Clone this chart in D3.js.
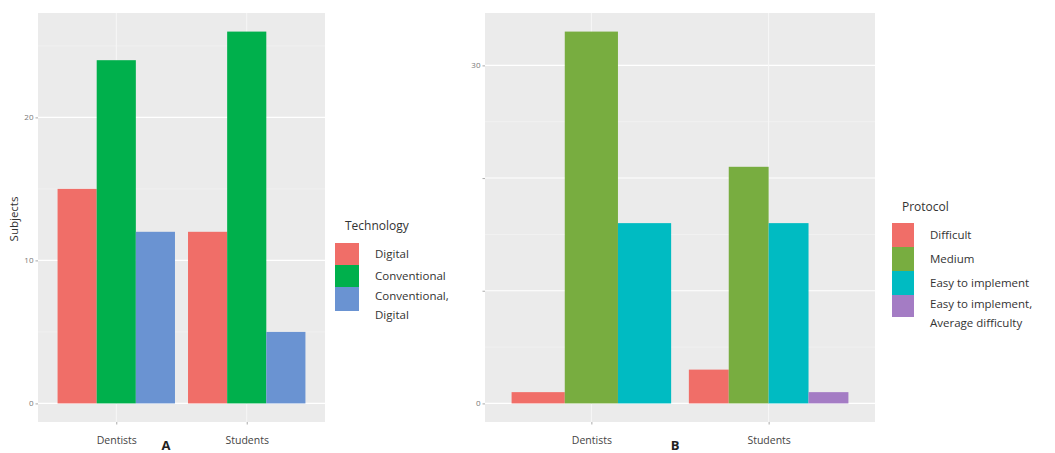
<!DOCTYPE html>
<html><head><meta charset="utf-8">
<script src="https://cdn.jsdelivr.net/npm/d3@7"></script>
<style>body{margin:0;background:#fff;} svg{display:block;} text{font-family:"Open Sans",sans-serif;}</style>
</head><body><svg id="c" width="1055" height="453"></svg>
<script>
// ---- data ----
const categories = ["Dentists", "Students"];
const techSeries = ["Digital", "Conventional", "Conventional, Digital"];
const techDigital = [15, 12];
const techConventional = [24, 26];
const techConvDigital = [12, 5];
const protoSeries = ["Difficult", "Medium", "Easy to implement", "Easy to implement, Average difficulty"];
const protoDifficult = [1, 3];
const protoMedium = [33, 21];
const protoEasy = [16, 16];
const protoAverage = [null, 1];
const ticksA = [0, 10, 20];
const ticksALabels = ["0", "10", "20"];
const ticksB = [0, 10, 20, 30];
const ticksBLabels = ["0", "", "", "30"];
const yTitleA = "Subjects";
const legendTitleA = "Technology";
const legendTitleB = "Protocol";
const techColors = ["#F06E68", "#00B04C", "#6A93D2"];
const protoColors = ["#F06E68", "#78AD40", "#00BBC2", "#A47CC4"];

const svg = d3.select("#c");

function panel(cfg) {
  const g = svg.append("g");
  const yMax = d3.max(cfg.values.flat().filter(v => v != null));
  const ex = yMax * 0.05;
  const y = d3.scaleLinear().domain([-ex, yMax + ex]).range([cfg.bottom, cfg.top]);
  const x = d3.scaleLinear().domain([0.4, categories.length + 0.6]).range([cfg.left, cfg.right]);
  g.append("rect").attr("x", cfg.left).attr("y", cfg.top)
    .attr("width", cfg.right - cfg.left).attr("height", cfg.bottom - cfg.top).attr("fill", "#EBEBEB");
  // minor grid
  const step = cfg.ticks[1] - cfg.ticks[0];
  const minors = d3.range(step / 2, yMax + ex, step);
  g.selectAll(".mg").data(minors).enter().append("line")
    .attr("x1", cfg.left).attr("x2", cfg.right).attr("y1", d => y(d)).attr("y2", d => y(d))
    .attr("stroke", "#F5F5F5").attr("stroke-width", 0.6);
  g.selectAll(".Mg").data(cfg.ticks).enter().append("line")
    .attr("x1", cfg.left).attr("x2", cfg.right).attr("y1", d => y(d)).attr("y2", d => y(d))
    .attr("stroke", "#fff").attr("stroke-width", 1.1);
  g.selectAll(".vg").data(categories).enter().append("line")
    .attr("x1", (d, i) => x(i + 1)).attr("x2", (d, i) => x(i + 1)).attr("y1", cfg.top).attr("y2", cfg.bottom)
    .attr("stroke", "#F7F7F7").attr("stroke-width", 1);
  // bars (dodge)
  categories.forEach((c, ci) => {
    const present = cfg.series.map((s, si) => ({ s, si, v: cfg.values[si][ci] })).filter(d => d.v != null);
    const w = 0.9 / present.length;
    g.selectAll(".b" + ci).data(present).enter().append("rect")
      .attr("x", (d, k) => x(ci + 1 - 0.45 + k * w))
      .attr("width", x(1 + w) - x(1))
      .attr("y", d => y(d.v)).attr("height", d => y(0) - y(d.v))
      .attr("fill", d => cfg.colors[d.si]);
  });
  // y axis
  const ya = d3.axisLeft(y).tickValues(cfg.ticks).tickSize(2.5).tickPadding(2)
    .tickFormat((d, i) => cfg.tickLabels[i]);
  const yg = g.append("g").attr("transform", `translate(${cfg.left},0)`).call(ya);
  yg.select(".domain").remove();
  yg.selectAll("line").attr("stroke", "#aaa");
  yg.selectAll("text").attr("fill", "#777").attr("font-size", 8);
  // x axis
  const xa = d3.axisBottom(x).tickValues(categories.map((c, i) => i + 1)).tickSize(2.5).tickPadding(12)
    .tickFormat((d, i) => categories[i]);
  const xg = g.append("g").attr("transform", `translate(0,${cfg.bottom})`).call(xa);
  xg.select(".domain").remove();
  xg.selectAll("line").attr("stroke", "#aaa");
  xg.selectAll("text").attr("fill", "#444").attr("font-size", 10.5);
  // panel letter
  g.append("text").attr("x", cfg.letterX).attr("y", 450).attr("text-anchor", "middle")
    .attr("font-size", 13).attr("font-weight", "bold").attr("fill", "#222").text(cfg.letter);
  // legend
  const L = cfg.legend;
  g.append("text").attr("x", L.x + 10).attr("y", L.titleY).attr("font-size", 12).attr("fill", "#333").text(L.title);
  let cy = L.keyY;
  cfg.series.forEach((s, i) => {
    const lines = L.labels[i];
    const h = lines.length > 1 ? L.keyH2 : L.keyH;
    g.append("rect").attr("x", L.x).attr("y", cy).attr("width", L.keyW).attr("height", h).attr("fill", cfg.colors[i]);
    const t = g.append("text").attr("x", L.textX).attr("font-size", 11.5).attr("fill", "#333");
    lines.forEach((ln, j) => {
      t.append("tspan").attr("x", L.textX)
        .attr("y", cy + (lines.length > 1 ? 13 + j * 19 : h / 2 + 4)).text(ln);
    });
    cy += h;
  });
}

panel({
  left: 38, right: 325, top: 13, bottom: 422,
  series: techSeries, values: [techDigital, techConventional, techConvDigital],
  colors: techColors, ticks: ticksA, tickLabels: ticksALabels,
  letter: "A", letterX: 166,
  legend: { x: 335, title: legendTitleA, titleY: 230, keyY: 243, keyW: 24, keyH: 22, keyH2: 24, textX: 375,
    labels: [["Digital"], ["Conventional"], ["Conventional,", "Digital"]] }
});
panel({
  left: 485, right: 875, top: 13, bottom: 422,
  series: protoSeries, values: [protoDifficult, protoMedium, protoEasy, protoAverage],
  colors: protoColors, ticks: ticksB, tickLabels: ticksBLabels,
  letter: "B", letterX: 675,
  legend: { x: 892, title: legendTitleB, titleY: 211, keyY: 223, keyW: 22, keyH: 24, keyH2: 22, textX: 930,
    labels: [["Difficult"], ["Medium"], ["Easy to implement"], ["Easy to implement,", "Average difficulty"]] }
});
svg.append("text").attr("transform", "translate(18,219) rotate(-90)").attr("text-anchor", "middle")
  .attr("font-size", 11.5).attr("fill", "#333").text(yTitleA);
</script></body></html>
